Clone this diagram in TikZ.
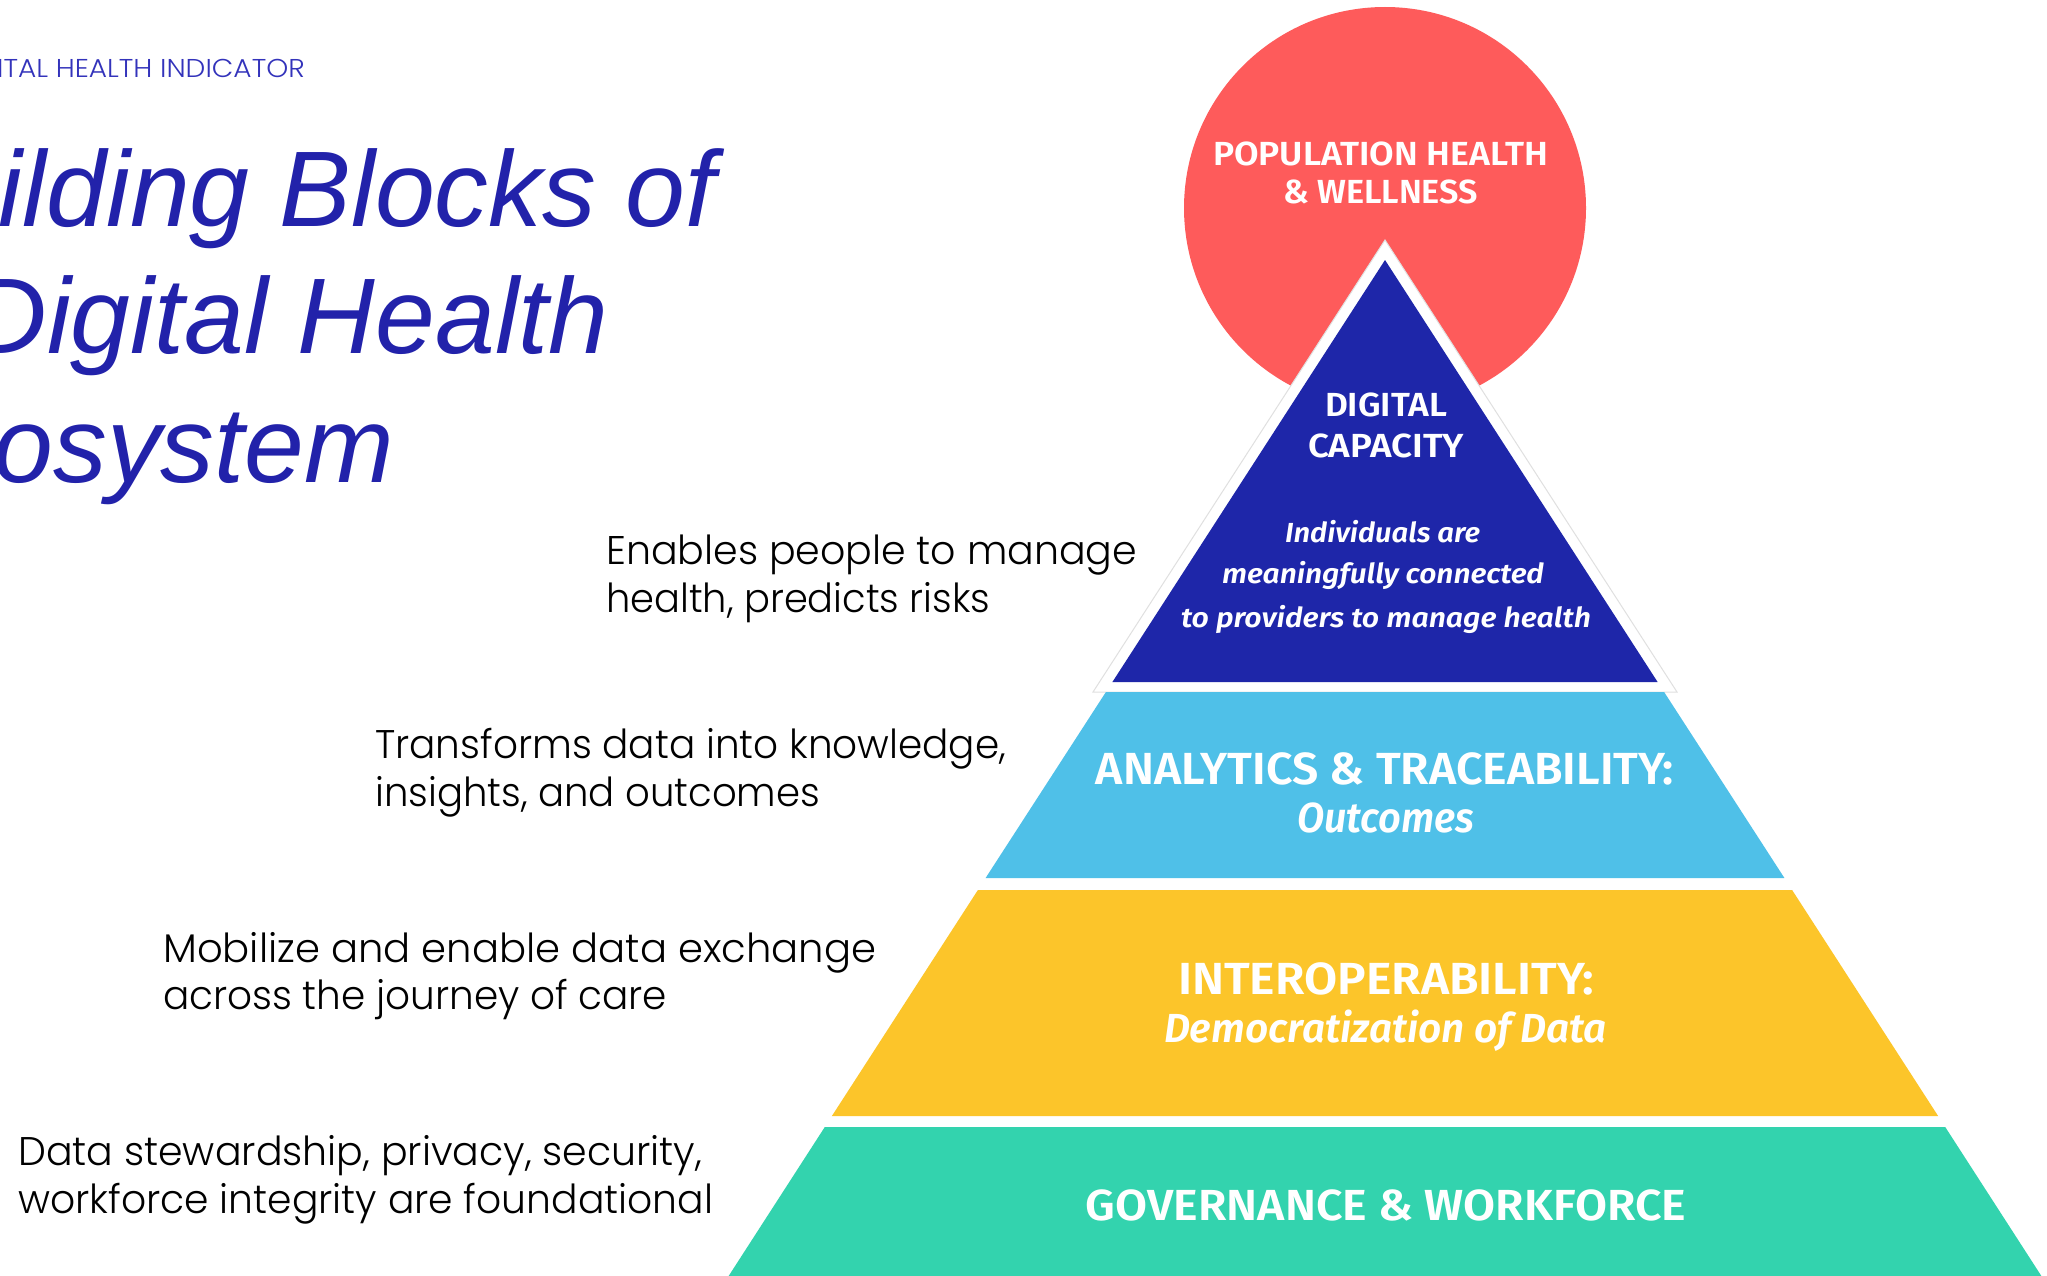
\documentclass[tikz,border=0pt]{standalone}
\usepackage{fontspec}
\usepackage{graphicx}
\setmainfont{Liberation Sans}
\newfontfamily\titlefont{Liberation Sans}
\IfFontExistsTF{Poppins Light}{\newfontfamily\lightfont{Poppins Light}}{\newfontfamily\lightfont{Poppins}}
\IfFontExistsTF{Fira Sans SemiBold}{\newfontfamily\pyr{Fira Sans SemiBold}}{\newfontfamily\pyrbase{Fira Sans}\newcommand\pyr{\pyrbase\bfseries}}
\IfFontExistsTF{Fira Sans SemiBold Italic}{\newfontfamily\pyri{Fira Sans SemiBold Italic}}{\newfontfamily\pyribase{Fira Sans}\newcommand\pyri{\pyribase\bfseries\itshape}}
\definecolor{titleblue}{HTML}{2222AA}
\definecolor{hdrblue}{HTML}{3333BB}
\definecolor{pyrblue}{HTML}{1E26A9}
\definecolor{circred}{HTML}{FE5B5B}
\definecolor{lightblue}{HTML}{4FC0E8}
\definecolor{pyryellow}{HTML}{FCC52A}
\definecolor{pyrgreen}{HTML}{33D3AE}
\newcommand\fitw[2]{\resizebox{#1pt}{\height}{#2}}
\begin{document}
\begin{tikzpicture}[x=1pt,y=-1pt,
  pyrtext/.style={inner sep=0pt,anchor=base,text=white},
  bodytext/.style={inner sep=0pt,anchor=base west,text=black,font=\lightfont\fontsize{40}{48}\selectfont},
  titletext/.style={inner sep=0pt,anchor=base east,text=titleblue,font=\titlefont\itshape\fontsize{107.5}{128}\selectfont}]
\useasboundingbox (0,0) rectangle (2047,1276);
\clip (0,0) rectangle (2047,1276);
\fill[white] (0,0) rectangle (2047,1276);
% header and title
\node[inner sep=0pt,anchor=base east,text=hdrblue,font=\lightfont\fontsize{25.8}{30}\selectfont] (hdr) at (305,78) {\scalebox{1.085}[1]{DIGITAL HEALTH INDICATOR}};
\node[titletext] (ttl1) at (716,226) {Building Blocks of};
\node[titletext] (ttl2) at (609,353) {Digital Health};
\node[titletext] (ttl3) at (394,482) {Ecosystem};
% circle
\fill[circred] (1385,208) circle[radius=201];
% white triangle behind the top block
\fill[white,draw=black!12,line width=1pt] (1385,240) -- (1677,692) -- (1093,692) -- cycle;
% pyramid blocks
\fill[pyrblue] (1385,260) -- (1657.6,682) -- (1112.4,682) -- cycle;
\fill[lightblue] (1105.9,692) -- (1664.1,692) -- (1784.4,878) -- (985.6,878) -- cycle;
\fill[pyryellow] (977.9,890) -- (1792.1,890) -- (1938.1,1116) -- (831.9,1116) -- cycle;
\fill[pyrgreen] (824.8,1127) -- (1945.2,1127) -- (2050.4,1290) -- (719.6,1290) -- cycle;
% circle text
\node[pyrtext,font=\pyr\fontsize{33.4}{40}\selectfont] (pop1) at (1380.5,166) {\fitw{335}{POPULATION HEALTH}};
\node[pyrtext,font=\pyr\fontsize{33.4}{40}\selectfont] (pop2) at (1380.5,204) {\fitw{195}{\&\ WELLNESS}};
% digital capacity
\node[pyrtext,font=\pyr\fontsize{33.4}{40}\selectfont] (dc1) at (1386,416) {\fitw{122}{DIGITAL}};
\node[pyrtext,font=\pyr\fontsize{33.4}{40}\selectfont] (dc2) at (1386,457) {\fitw{156}{CAPACITY}};
\node[pyrtext,font=\pyri\fontsize{27.6}{33}\selectfont] (dc3) at (1382.5,542) {\fitw{195}{Individuals are}};
\node[pyrtext,font=\pyri\fontsize{27.6}{33}\selectfont] (dc4) at (1383,583) {\fitw{322}{meaningfully connected}};
\node[pyrtext,font=\pyri\fontsize{27.6}{33}\selectfont] (dc5) at (1386,627) {\fitw{410}{to providers to manage health}};
% analytics
\node[pyrtext,font=\pyr\fontsize{45}{54}\selectfont] (an1) at (1385,784) {\fitw{578}{ANALYTICS \& TRACEABILITY:}};
\node[pyrtext,font=\pyri\fontsize{42}{50}\selectfont] (an2) at (1385.5,832) {\fitw{177}{Outcomes}};
% interoperability
\node[pyrtext,font=\pyr\fontsize{45}{54}\selectfont] (io1) at (1386,994) {\fitw{416}{INTEROPERABILITY:}};
\node[pyrtext,font=\pyri\fontsize{40.6}{50}\selectfont] (io2) at (1385.5,1042) {\fitw{443}{Democratization of Data}};
% governance
\node[pyrtext,font=\pyr\fontsize{43.5}{52}\selectfont] (gv1) at (1386,1220) {\fitw{600}{GOVERNANCE \& WORKFORCE}};
% side descriptions
\node[bodytext] (d1a) at (606,564) {\fitw{531}{Enables people to manage}};
\node[bodytext] (d1b) at (606,612) {\fitw{384}{health, predicts risks}};
\node[bodytext] (d2a) at (375,758) {\fitw{631}{Transforms data into knowledge,}};
\node[bodytext] (d2b) at (375,806) {\fitw{445}{insights, and outcomes}};
\node[bodytext] (d3a) at (163,962) {\fitw{713}{Mobilize and enable data exchange}};
\node[bodytext] (d3b) at (163,1009) {\fitw{504}{across the journey of care}};
\node[bodytext] (d4a) at (18,1165) {\fitw{684}{Data stewardship, privacy, security,}};
\node[bodytext] (d4b) at (18,1213) {\fitw{695}{workforce integrity are foundational}};
\end{tikzpicture}
\end{document}
